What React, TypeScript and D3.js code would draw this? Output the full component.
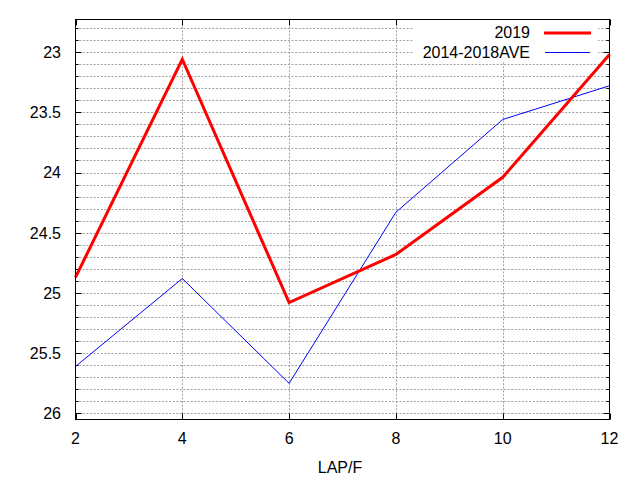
import React from "react";
import * as d3 from "d3";

const laps = [2, 4, 6, 8, 10, 12];
const times2019 = [24.87, 23.06, 25.08, 24.68, 24.04, 23.02];
const timesAve = [25.61, 24.88, 25.75, 24.33, 23.56, 23.28];
const yMajor = [23, 23.5, 24, 24.5, 25, 25.5, 26];
const yMinor = d3.range(228, 261).map((v) => v / 10);
const seriesNames = ["2019", "2014-2018AVE"];

const W = 640;
const H = 480;
const left = 75.5;
const right = 609.5;
const top = 19.5;
const bottom = 419.5;
const font = "'Liberation Sans', Arial, sans-serif";

export default function App() {
  const x = d3.scaleLinear().domain([2, 12]).range([left, right]);
  const y = d3.scaleLinear().domain([22.73, 26.05]).range([top, bottom]);

  const line = d3
    .line<number>()
    .x((_, i) => x(laps[i]))
    .y((d) => y(d));

  const grid = "#a0a0a0";
  const dash = "2,1.6";

  return (
    <svg
      width={W}
      height={H}
      style={{ position: "absolute", left: 0, top: 0, background: "#fff" }}
      fontFamily={font}
    >
      <rect width={W} height={H} fill="#fff" />
      {/* horizontal grid on every 0.1 */}
      {yMinor.map((v) => (
        <line
          key={"gh" + v}
          x1={left}
          x2={right}
          y1={Math.round(y(v)) + 0.5}
          y2={Math.round(y(v)) + 0.5}
          stroke={grid}
          strokeDasharray={dash}
        />
      ))}
      {laps.slice(1, -1).map((v) => (
        <line
          key={"gv" + v}
          x1={Math.round(x(v)) + 0.5}
          x2={Math.round(x(v)) + 0.5}
          y1={top}
          y2={bottom}
          stroke={grid}
          strokeDasharray={dash}
        />
      ))}
      {/* ticks */}
      {yMinor.map((v) => {
        const yy = Math.round(y(v)) + 0.5;
        const major = yMajor.some((m) => Math.abs(m - v) < 1e-6);
        const len = major ? 6 : 3;
        return (
          <g key={"t" + v} stroke="#000">
            <line x1={left} x2={left + len} y1={yy} y2={yy} />
            <line x1={right - len} x2={right} y1={yy} y2={yy} />
          </g>
        );
      })}
      {laps.map((v) => {
        const xx = Math.round(x(v)) + 0.5;
        return (
          <g key={"xt" + v} stroke="#000">
            <line x1={xx} x2={xx} y1={bottom} y2={bottom - 6} />
            <line x1={xx} x2={xx} y1={top} y2={top + 6} />
          </g>
        );
      })}
      {yMajor.map((v) => (
        <text
          key={"yl" + v}
          x={61}
          y={y(v)}
          dy="0.36em"
          textAnchor="end"
          fontSize={16}
          fill="#000"
        >
          {v}
        </text>
      ))}
      {laps.map((v) => (
        <text
          key={"xl" + v}
          x={x(v)}
          y={444}
          textAnchor="middle"
          fontSize={16}
          fill="#000"
        >
          {v}
        </text>
      ))}
      <text x={340} y={473} textAnchor="middle" fontSize={16} fill="#000">
        LAP/F
      </text>
      {/* series */}
      <path d={line(timesAve) ?? ""} fill="none" stroke="#0000ff" strokeWidth={1} />
      <path d={line(times2019) ?? ""} fill="none" stroke="#ff0000" strokeWidth={3} />
      {/* legend */}
      <rect x={413} y={top + 0.5} width={185} height={41} fill="#fff" />
      <text x={530} y={32} dy="0.36em" textAnchor="end" fontSize={16} fill="#000">
        {seriesNames[0]}
      </text>
      <line x1={544} x2={591} y1={33} y2={33} stroke="#ff0000" strokeWidth={3} />
      <text x={530} y={52} dy="0.36em" textAnchor="end" fontSize={16} fill="#000">
        {seriesNames[1]}
      </text>
      <line x1={545} x2={590} y1={52.5} y2={52.5} stroke="#0000ff" strokeWidth={1} />
      {/* frame */}
      <rect
        x={left}
        y={top}
        width={right - left}
        height={bottom - top}
        fill="none"
        stroke="#000"
      />
    </svg>
  );
}
